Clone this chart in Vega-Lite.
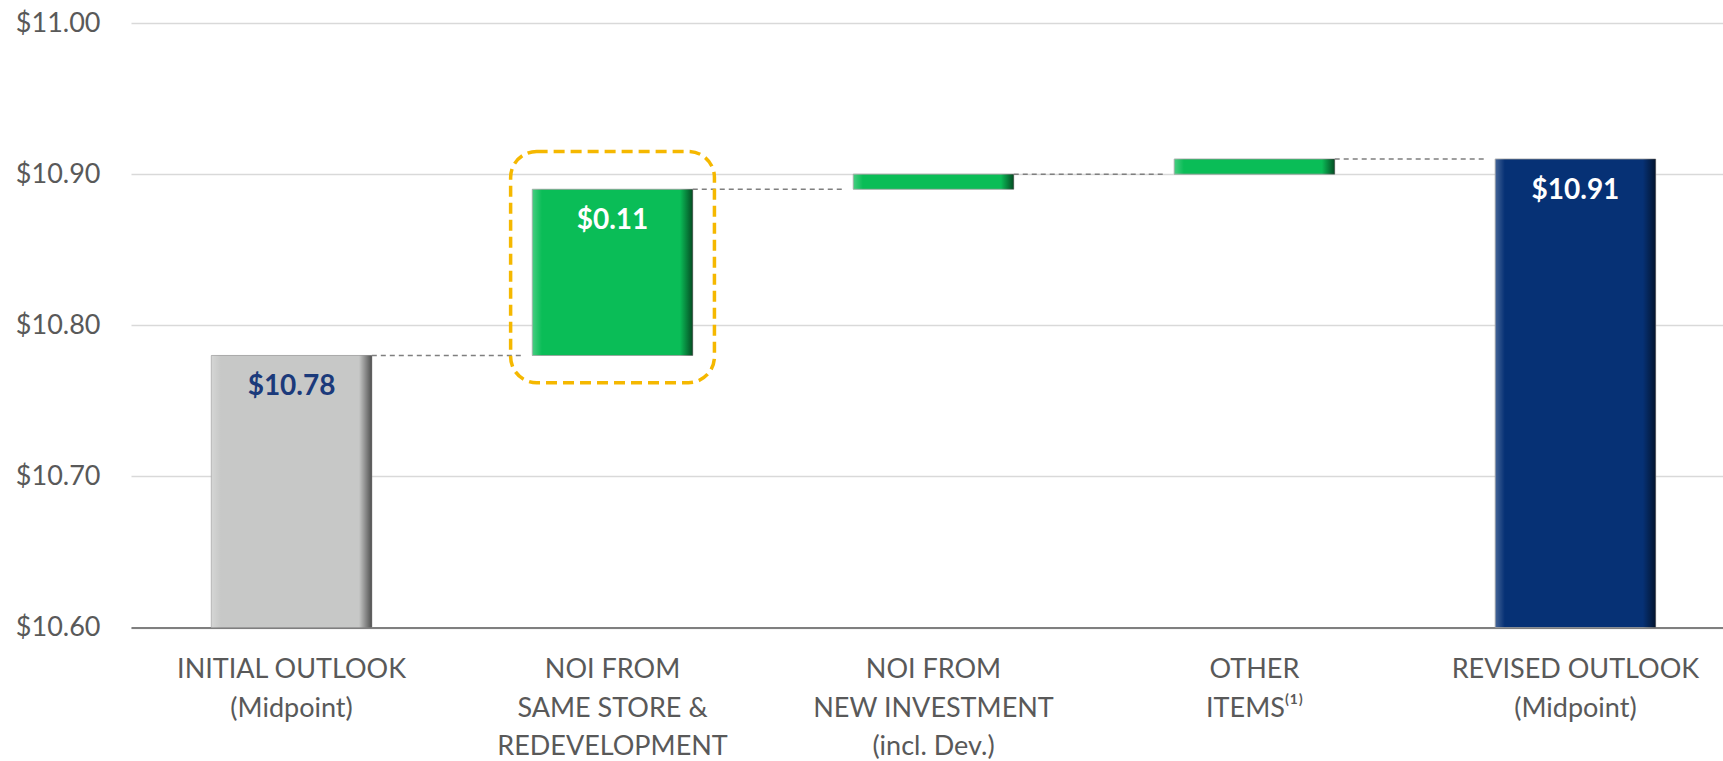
{
  "$schema": "https://vega.github.io/schema/vega-lite/v6.json",
  "width": 1592,
  "height": 604.5,
  "autosize": {"type": "none"},
  "padding": {"left": 131, "top": 23, "right": 0, "bottom": 133.5},
  "background": "white",
  "config": {
    "view": {"stroke": null},
    "font": "Lato"
  },
  "datasets": {
    "bars": [
      {"cat": "INITIAL OUTLOOK|(Midpoint)", "start": 10.6, "end": 10.78, "kind": "initial", "text": "$10.78"},
      {"cat": "NOI FROM|SAME STORE &|REDEVELOPMENT", "start": 10.78, "end": 10.89, "kind": "increase", "text": "$0.11"},
      {"cat": "NOI FROM|NEW INVESTMENT|(incl. Dev.)", "start": 10.89, "end": 10.9, "kind": "increase", "text": ""},
      {"cat": "OTHER|ITEMS⁽¹⁾", "start": 10.9, "end": 10.91, "kind": "increase", "text": ""},
      {"cat": "REVISED OUTLOOK|(Midpoint)", "start": 10.6, "end": 10.91, "kind": "revised", "text": "$10.91"}
    ],
    "links": [
      {"from": "INITIAL OUTLOOK|(Midpoint)", "to": "NOI FROM|SAME STORE &|REDEVELOPMENT", "level": 10.78},
      {"from": "NOI FROM|SAME STORE &|REDEVELOPMENT", "to": "NOI FROM|NEW INVESTMENT|(incl. Dev.)", "level": 10.89},
      {"from": "NOI FROM|NEW INVESTMENT|(incl. Dev.)", "to": "OTHER|ITEMS⁽¹⁾", "level": 10.9},
      {"from": "OTHER|ITEMS⁽¹⁾", "to": "REVISED OUTLOOK|(Midpoint)", "level": 10.91}
    ],
    "highlight": [
      {"cat": "NOI FROM|SAME STORE &|REDEVELOPMENT", "lo": 10.762, "hi": 10.915}
    ]
  },
  "layer": [
    {
      "data": {"name": "bars"},
      "mark": {"type": "bar", "stroke": "#9a9a9a", "strokeWidth": 0.8},
      "encoding": {
        "x": {
          "field": "cat", "type": "nominal", "sort": null,
          "scale": {"paddingInner": 0.5, "paddingOuter": 0.23, "align": 0.544},
          "axis": {
            "title": null,
            "labelExpr": "split(datum.value, '|')",
            "labelAngle": 0,
            "labelFont": "Lato",
            "labelFontSize": 27,
            "labelLineHeight": 38.5,
            "labelColor": "#595959",
            "labelPadding": 29,
            "ticks": false,
            "domain": true,
            "domainColor": "#7f7f7f",
            "domainWidth": 2,
            "labelLimit": 400
          }
        },
        "y": {
          "field": "start", "type": "quantitative",
          "scale": {"domain": [10.6, 11.0], "nice": false, "zero": false},
          "axis": {
            "title": null,
            "values": [10.6, 10.7, 10.8, 10.9, 11.0],
            "format": "$.2f",
            "labelFont": "Lato",
            "labelFontSize": 27,
            "labelColor": "#595959",
            "labelPadding": 31,
            "ticks": false,
            "domain": false,
            "grid": true,
            "gridColor": "#D9D9D9",
            "gridWidth": 1.5
          }
        },
        "y2": {"field": "end"},
        "color": {
          "field": "kind", "type": "nominal", "legend": null,
          "scale": {"domain": ["initial", "increase", "revised"], "range": ["#C7C8C7", "#0ABD57", "#063175"]}
        }
      }
    },
    {
      "data": {"name": "bars"},
      "mark": {
        "type": "bar",
        "fill": {
          "gradient": "linear", "x1": 0, "y1": 0, "x2": 1, "y2": 0,
          "stops": [
            {"offset": 0, "color": "rgba(255,255,255,0.25)"},
            {"offset": 0.06, "color": "rgba(255,255,255,0)"},
            {"offset": 0.92, "color": "rgba(0,0,0,0)"},
            {"offset": 1, "color": "rgba(0,0,0,0.6)"}
          ]
        }
      },
      "encoding": {
        "x": {"field": "cat", "type": "nominal", "sort": null},
        "y": {"field": "start", "type": "quantitative"},
        "y2": {"field": "end"}
      }
    },
    {
      "data": {"name": "links"},
      "mark": {"type": "rule", "stroke": "#7f7f7f", "strokeWidth": 1.5, "strokeDash": [5, 4]},
      "encoding": {
        "x": {"field": "from", "type": "nominal", "sort": null, "bandPosition": 1},
        "x2": {"field": "to", "bandPosition": -0.06},
        "y": {"field": "level", "type": "quantitative"}
      }
    },
    {
      "data": {"name": "highlight"},
      "mark": {
        "type": "bar",
        "width": {"band": 1.27},
        "cornerRadius": 26,
        "fill": null,
        "fillOpacity": 0,
        "stroke": "#F5B800",
        "strokeWidth": 3.5,
        "strokeDash": [11, 6]
      },
      "encoding": {
        "x": {"field": "cat", "type": "nominal", "sort": null},
        "y": {"field": "lo", "type": "quantitative"},
        "y2": {"field": "hi"}
      }
    },
    {
      "data": {"name": "bars"},
      "transform": [{"filter": "datum.text != ''"}],
      "mark": {"type": "text", "font": "Lato", "fontSize": 28, "fontWeight": "bold", "baseline": "middle", "align": "center", "dy": 32},
      "encoding": {
        "x": {"field": "cat", "type": "nominal", "sort": null},
        "y": {"field": "end", "type": "quantitative"},
        "text": {"field": "text"},
        "color": {
          "condition": {"test": "datum.kind === 'initial'", "value": "#1B3A7B"},
          "value": "#FFFFFF"
        }
      }
    }
  ]
}
